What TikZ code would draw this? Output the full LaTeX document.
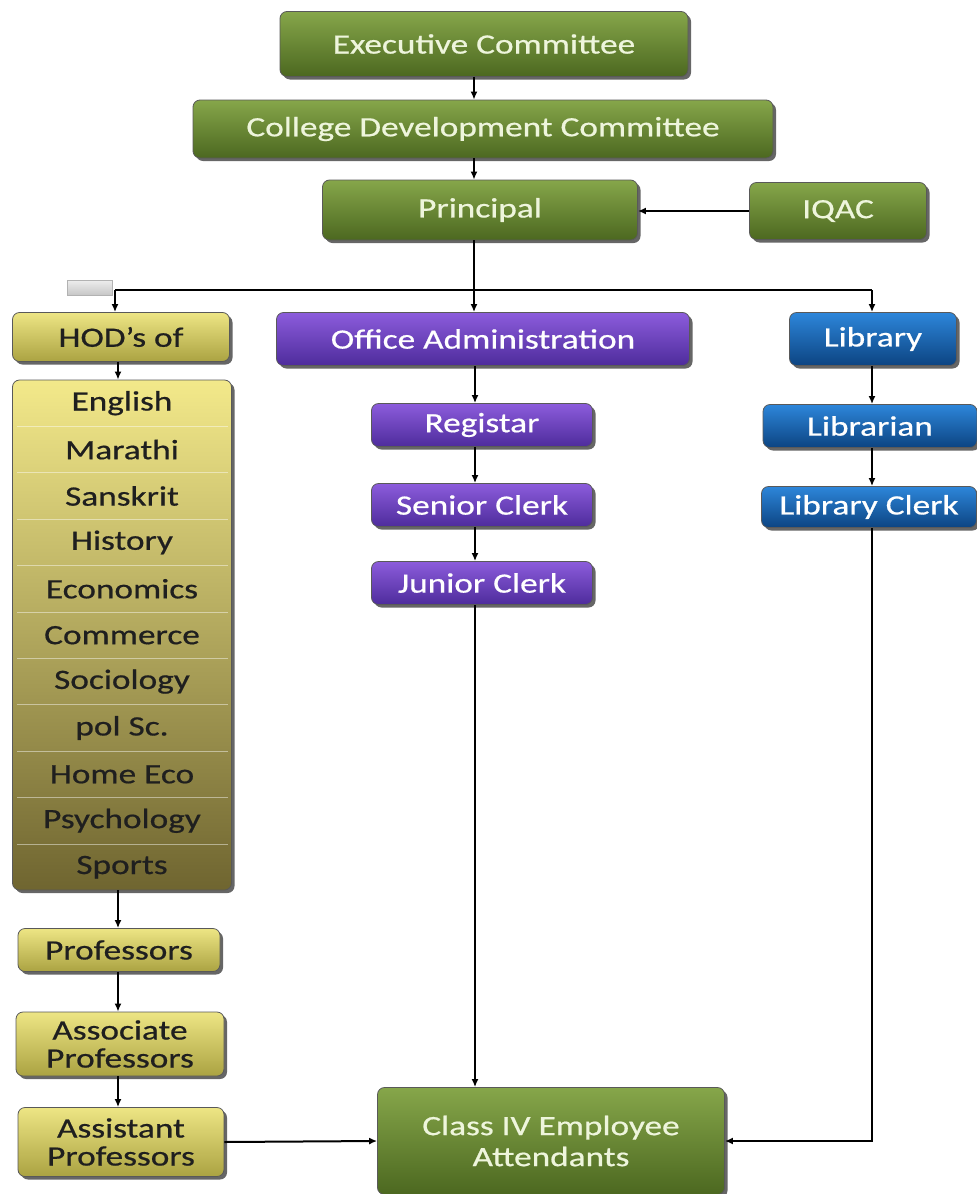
\documentclass[tikz,border=0pt]{standalone}
\usepackage{fontspec}
\setmainfont{Carlito}[FakeStretch=1.28]
\newfontfamily\boxfont{Carlito}[FakeStretch=1.26, FakeBold=0.6]
\usetikzlibrary{arrows.meta,shadows}

\definecolor{grntop}{HTML}{86A64A}
\definecolor{grnbot}{HTML}{4C6820}
\definecolor{grntext}{HTML}{EEF5DC}
\definecolor{yeltop}{HTML}{EDE584}
\definecolor{yelbot}{HTML}{ABA342}
\definecolor{depttop}{HTML}{F3E98A}
\definecolor{deptbot}{HTML}{6F6530}
\definecolor{purtop}{HTML}{8C5CDC}
\definecolor{purbot}{HTML}{4E2C9C}
\definecolor{blutop}{HTML}{2D86DA}
\definecolor{blubot}{HTML}{0C4482}

\tikzset{
  box/.style={rounded corners=7pt, draw=black!65, line width=0.8pt, inner sep=0pt,
    align=center, font=\boxfont\fontsize{28}{28}\selectfont,
    drop shadow={shadow xshift=3pt, shadow yshift=-3pt, fill=black, opacity=0.6}},
  grnbox/.style={box, top color=grntop, bottom color=grnbot, text=grntext},
  yelbox/.style={box, top color=yeltop, bottom color=yelbot, text=black!88},
  purbox/.style={box, top color=purtop, bottom color=purbot, text=white},
  blubox/.style={box, top color=blutop, bottom color=blubot, text=white},
  deptname/.style={font=\boxfont\fontsize{28}{28}\selectfont, text=black!88, inner sep=0pt},
  sep/.style={draw=white, opacity=0.45, line width=1pt},
  link/.style={line width=2pt},
  arr/.style={link, -{Latex[length=8pt,width=7pt]}},
}

\begin{document}
\begin{tikzpicture}[x=1pt, y=-1pt]
  \useasboundingbox (0,0) rectangle (977,1194);

  % top of the chart
  \node[grnbox, minimum width=408pt, minimum height=65pt] (exec) at (484,44) {Executive Committee};
  \node[grnbox, minimum width=580pt, minimum height=58pt] (cdc) at (483,129) {College Development Committee};
  \node[grnbox, minimum width=315pt, minimum height=60pt] (principal) at (480,210) {Principal};
  \node[grnbox, minimum width=177pt, minimum height=57pt] (iqac) at (838,211) {IQAC};

  % column lines
  \coordinate (bus) at (474,290);
  \coordinate (busL) at (115,290);
  \coordinate (busR) at (872,290);
  \coordinate (lcol) at (118,0);
  \coordinate (mcol) at (475,0);
  \coordinate (rcol) at (872,0);

  \node[draw=gray!60, top color=gray!15, bottom color=gray!45, minimum width=45pt, minimum height=15pt, inner sep=0pt] (tab) at (89.5,288) {};

  % second row
  \node[yelbox, minimum width=217pt, minimum height=49pt] (hod) at (121,337) {HOD’s of};
  \node[purbox, minimum width=413pt, minimum height=53pt] (office) at (483,339) {Office Administration};
  \node[blubox, minimum width=167pt, minimum height=53pt] (library) at (873,339) {Library};

  % departments
  \node[box, top color=depttop, bottom color=deptbot, minimum width=219pt, minimum height=510pt] (depts) at (122,635) {};
  \foreach \k in {1,...,10}
    \draw[sep] (17,{380+46.4*\k}) -- (228,{380+46.4*\k});
  \foreach \d [count=\i] in {English,Marathi,Sanskrit,History,Economics,Commerce,Sociology,pol Sc.,Home Eco,Psychology,Sports}
    \node[deptname] (dept\i) at (122,{380+46.4*(\i-0.5)}) {\d};

  % office column
  \node[purbox, minimum width=221pt, minimum height=43pt] (registrar) at (482,425) {Registar};
  \node[purbox, minimum width=221pt, minimum height=43pt] (senior) at (482,505) {Senior Clerk};
  \node[purbox, minimum width=221pt, minimum height=43pt] (junior) at (482,583) {Junior Clerk};

  % library column
  \node[blubox, minimum width=214pt, minimum height=43pt] (librarian) at (870,426) {Librarian};
  \node[blubox, minimum width=215pt, minimum height=41pt] (libclerk) at (869,507) {Library Clerk};

  % teaching staff
  \node[yelbox, minimum width=202pt, minimum height=43pt] (prof) at (119,950) {Professors};
  \node[yelbox, minimum width=208pt, minimum height=64pt] (assoc) at (120,1044) {Associate\\Professors};
  \node[yelbox, minimum width=206pt, minimum height=69pt] (assist) at (121,1142) {Assistant\\Professors};

  \node[grnbox, minimum width=347pt, minimum height=107pt, font=\boxfont\fontsize{28}{31}\selectfont] (classiv) at (551,1141) {Class IV Employee\\Attendants};

  % connectors
  \draw[arr] (exec.south -| bus) -- (cdc.north -| bus);
  \draw[arr] (cdc.south -| bus) -- (principal.north -| bus);
  \draw[arr] (iqac.west) -- (iqac.west -| principal.east);
  \draw[link] (principal.south -| bus) -- (bus);
  \draw[link] (busL) -- (busR);
  \draw[arr] (busL) -- (busL |- hod.north);
  \draw[arr] (bus) -- (bus |- office.north);
  \draw[arr] (busR) -- (busR |- library.north);

  \draw[arr] (hod.south -| lcol) -- (depts.north -| lcol);
  \draw[arr] (depts.south -| lcol) -- (prof.north -| lcol);
  \draw[arr] (prof.south -| lcol) -- (assoc.north -| lcol);
  \draw[arr] (assoc.south -| lcol) -- (assist.north -| lcol);

  \draw[arr] (office.south -| mcol) -- (registrar.north -| mcol);
  \draw[arr] (registrar.south -| mcol) -- (senior.north -| mcol);
  \draw[arr] (senior.south -| mcol) -- (junior.north -| mcol);
  \draw[arr] (junior.south -| mcol) -- (classiv.north -| mcol);

  \draw[arr] (library.south -| rcol) -- (librarian.north -| rcol);
  \draw[arr] (librarian.south -| rcol) -- (libclerk.north -| rcol);
  \draw[arr] (libclerk.south -| rcol) |- (classiv.east);

  \draw[arr] (assist.east) -- (classiv.west);
\end{tikzpicture}
\end{document}
